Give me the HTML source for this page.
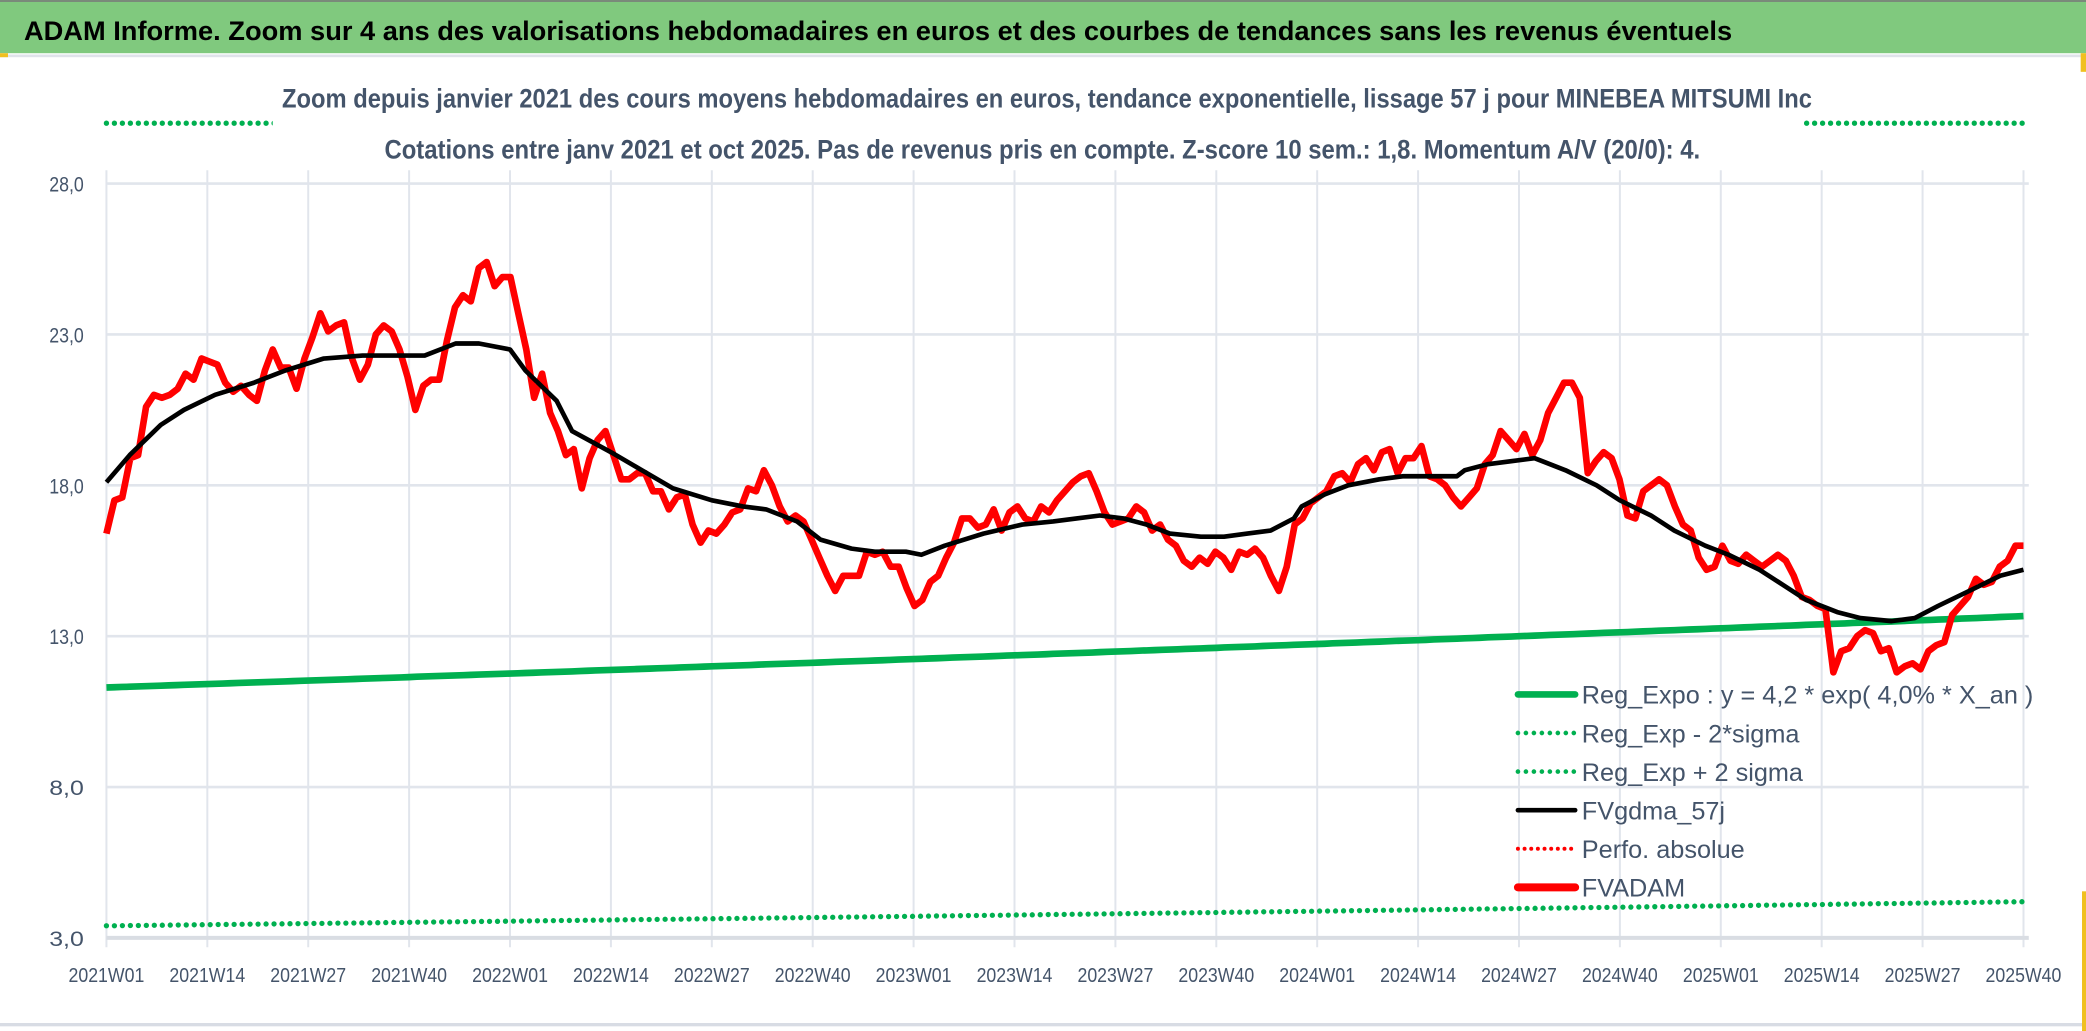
<!DOCTYPE html>
<html><head><meta charset="utf-8"><style>
html,body{margin:0;padding:0;background:#fff;width:2086px;height:1031px;overflow:hidden}
svg{display:block}
text{font-family:"Liberation Sans",sans-serif}
</style></head><body>
<svg id="chart" width="2086" height="1031" viewBox="0 0 1568 775" preserveAspectRatio="none">
<rect x="0" y="0" width="1568" height="40" fill="#80c97e"/>
<rect x="0" y="0" width="1568" height="1.5" fill="#7a8a7a"/>
<text x="18" y="30" font-size="20" font-weight="bold" fill="#000" textLength="1284" lengthAdjust="spacingAndGlyphs">ADAM Informe. Zoom sur 4 ans des valorisations hebdomadaires en euros et des courbes de tendances sans les revenus éventuels</text>
<rect x="0" y="41" width="1568" height="2" fill="#dfe3ea"/>
<rect x="1564" y="40" width="4" height="14" fill="#f0c020"/>
<rect x="0" y="40" width="6" height="3" fill="#f0c020"/>
<rect x="0" y="769" width="1568" height="2.5" fill="#d8dce4"/>
<rect x="1565" y="670" width="3" height="105" fill="#f0c020"/>
<g id="grid"></g>
<g id="series"></g>
<rect x="205" y="58" width="1150" height="66" fill="#fff"/>
<text x="212" y="81" font-size="20" font-weight="bold" fill="#44546a" textLength="1150" lengthAdjust="spacingAndGlyphs">Zoom depuis janvier 2021 des cours moyens hebdomadaires en euros, tendance exponentielle, lissage 57 j pour MINEBEA MITSUMI Inc</text>
<text x="289" y="119" font-size="20" font-weight="bold" fill="#44546a" textLength="989" lengthAdjust="spacingAndGlyphs">Cotations entre janv 2021 et oct 2025. Pas de revenus pris en compte. Z-score 10 sem.: 1,8. Momentum A/V (20/0): 4.</text>
<g id="axes"></g>
<g id="legend"></g>
</svg>
<script>
const xLabels=["2021W01","2021W14","2021W27","2021W40","2022W01","2022W14","2022W27","2022W40","2023W01","2023W14","2023W27","2023W40","2024W01","2024W14","2024W27","2024W40","2025W01","2025W14","2025W27","2025W40"];
const yTicks=[3,8,13,18,23,28];
const yTickLabels=["3,0","8,0","13,0","18,0","23,0","28,0"];
const nWeeks=248;
const fvadam=[16.4,17.5,17.6,18.9,19.0,20.6,21.0,20.9,21.0,21.2,21.7,21.5,22.2,22.1,22.0,21.4,21.1,21.3,21.0,20.8,21.8,22.5,21.9,21.9,21.2,22.2,22.9,23.7,23.1,23.3,23.4,22.2,21.5,22.0,23.0,23.3,23.1,22.5,21.6,20.5,21.3,21.5,21.5,22.8,23.9,24.3,24.1,25.2,25.4,24.6,24.9,24.9,23.7,22.5,20.9,21.7,20.4,19.8,19.0,19.2,17.9,18.9,19.5,19.8,19.0,18.2,18.2,18.4,18.4,17.8,17.8,17.2,17.6,17.7,16.7,16.1,16.5,16.4,16.7,17.1,17.2,17.9,17.8,18.5,18.0,17.3,16.8,17.0,16.8,16.2,15.6,15.0,14.5,15.0,15.0,15.0,15.8,15.7,15.8,15.3,15.3,14.6,14.0,14.2,14.8,15.0,15.6,16.1,16.9,16.9,16.6,16.7,17.2,16.5,17.1,17.3,16.9,16.8,17.3,17.1,17.5,17.8,18.1,18.3,18.4,17.8,17.1,16.7,16.8,16.9,17.3,17.1,16.5,16.7,16.2,16.0,15.5,15.3,15.6,15.4,15.8,15.6,15.2,15.8,15.7,15.9,15.6,15.0,14.5,15.3,16.7,16.9,17.4,17.6,17.8,18.3,18.4,18.1,18.7,18.9,18.5,19.1,19.2,18.4,18.9,18.9,19.3,18.3,18.2,18.0,17.6,17.3,17.6,17.9,18.7,19.0,19.8,19.5,19.2,19.7,19.0,19.5,20.4,20.9,21.4,21.4,20.9,18.4,18.8,19.1,18.9,18.2,17.0,16.9,17.8,18.0,18.2,18.0,17.3,16.7,16.5,15.6,15.2,15.3,16.0,15.5,15.4,15.7,15.5,15.3,15.5,15.7,15.5,15.0,14.3,14.2,14.0,13.9,11.8,12.5,12.6,13.0,13.2,13.1,12.5,12.6,11.8,12.0,12.1,11.9,12.5,12.7,12.8,13.7,14.0,14.3,14.9,14.7,14.8,15.3,15.5,16.0,16.0];
const smaWeeks=[0,3,7,10,14,19,23,28,33,38,41,45,48,52,54,58,60,65,69,73,78,82,85,89,92,96,99,103,105,108,113,118,122,125,128,131,134,137,141,144,147,150,153,154,157,160,164,167,171,174,175,178,181,184,185,188,192,195,199,202,206,209,213,216,219,223,226,230,233,236,240,244,247];
const smaVals=[18.1,19.0,20.0,20.5,21.0,21.4,21.8,22.2,22.3,22.3,22.3,22.7,22.7,22.5,21.8,20.8,19.8,19.1,18.5,17.9,17.5,17.3,17.2,16.8,16.2,15.9,15.8,15.8,15.7,16.0,16.4,16.7,16.8,16.9,17.0,16.9,16.7,16.4,16.3,16.3,16.4,16.5,16.9,17.3,17.7,18.0,18.2,18.3,18.3,18.3,18.5,18.7,18.8,18.9,18.8,18.5,18.0,17.5,17.0,16.5,16.0,15.7,15.2,14.7,14.2,13.8,13.6,13.5,13.6,14.0,14.5,15.0,15.2];
const regStart=11.3, regRate=0.04, lowStart=3.4, lowEnd=4.2, upStart=30.0, upEnd=30.0;

const NS="http://www.w3.org/2000/svg";
const X0=80,X1=1521,Y0=705,Y1=138;
const xs=i=>X0+(X1-X0)*i/(nWeeks-1);
const ys=v=>Y0-(v-3)*(Y0-Y1)/25;
function mk(tag,attrs,parent){const e=document.createElementNS(NS,tag);for(const k in attrs)e.setAttribute(k,attrs[k]);parent.appendChild(e);return e;}
const grid=document.getElementById('grid'),ser=document.getElementById('series'),axes=document.getElementById('axes'),leg=document.getElementById('legend');
xLabels.forEach((l,k)=>{const x=xs(k*13);
 const g=mk('line',{x1:x,x2:x,y1:128,y2:712,stroke:'#e1e5ec','stroke-width':1.5},grid);
 
 const t=mk('text',{x:x,y:738,'font-size':15,fill:'#44546a','text-anchor':'middle',textLength:57,lengthAdjust:'spacingAndGlyphs'},axes);t.textContent=l;
 });
yTicks.forEach((v,k)=>{const y=ys(v);
 const g=mk('line',{x1:X0,x2:1525,y1:y,y2:y,stroke:v===3?'#d9dde3':'#e1e5ec','stroke-width':v===3?3:2},grid);
 
 const t=mk('text',{x:50,y:y+6,'font-size':16,fill:'#44546a','text-anchor':'middle',textLength:26,lengthAdjust:'spacingAndGlyphs'},axes);t.textContent=yTickLabels[k];
 });
function pathOf(f,n){let d='';for(let i=0;i<n;i++){const p=f(i);d+=(i?'L':'M')+p[0].toFixed(1)+' '+p[1].toFixed(1);}return d;}
const yrs=i=>i/52;
const up=mk('path',{d:pathOf(i=>[xs(i),ys(upStart+(upEnd-upStart)*i/(nWeeks-1))],nWeeks),fill:'none',stroke:'#00b050','stroke-width':4,'stroke-dasharray':'0 6','stroke-linecap':'round'},ser);

const low=mk('path',{d:pathOf(i=>[xs(i),ys(lowStart*Math.exp(Math.log(lowEnd/lowStart)*i/(nWeeks-1)))],nWeeks),fill:'none',stroke:'#00b050','stroke-width':4,'stroke-dasharray':'0 6','stroke-linecap':'round'},ser);

const reg=mk('path',{d:pathOf(i=>[xs(i),ys(regStart*Math.exp(regRate*yrs(i)))],nWeeks),fill:'none',stroke:'#00b050','stroke-width':5},ser);

const red=mk('path',{d:pathOf(i=>[X0+(X1-X0)*i/(fvadam.length-1),ys(fvadam[i])],fvadam.length),fill:'none',stroke:'#ff0000','stroke-width':5,'stroke-linejoin':'round'},ser);

const blk=mk('path',{d:pathOf(i=>[xs(smaWeeks[i]),ys(smaVals[i])],smaVals.length),fill:'none',stroke:'#000','stroke-width':3.5,'stroke-linejoin':'round'},ser);

const legItems=[["Reg_Expo : y = 4,2 * exp( 4,0% *  X_an )","#00b050",5,null,'legend-regression'],["Reg_Exp - 2*sigma","#00b050",3.5,'0 6','legend-minus-2-sigma'],["Reg_Exp + 2 sigma","#00b050",3.5,'0 6','legend-plus-2-sigma'],["FVgdma_57j","#000",3.5,null,'legend-fvgdma'],["Perfo. absolue","#ff0000",3,'0 5','legend-perfo-absolue'],["FVADAM","#ff0000",6,null,'legend-fvadam']];
legItems.forEach((it,k)=>{const y=522+k*29;
 const a={x1:1141,x2:1184,y1:y,y2:y,stroke:it[1],'stroke-width':it[2],'stroke-linecap':'round'};if(it[3])a['stroke-dasharray']=it[3];
 const l=mk('line',a,leg);
 const t=mk('text',{x:1189,y:y+7,'font-size':19,fill:'#44546a'},leg);t.textContent=it[0];
 });
</script>
</body></html>
